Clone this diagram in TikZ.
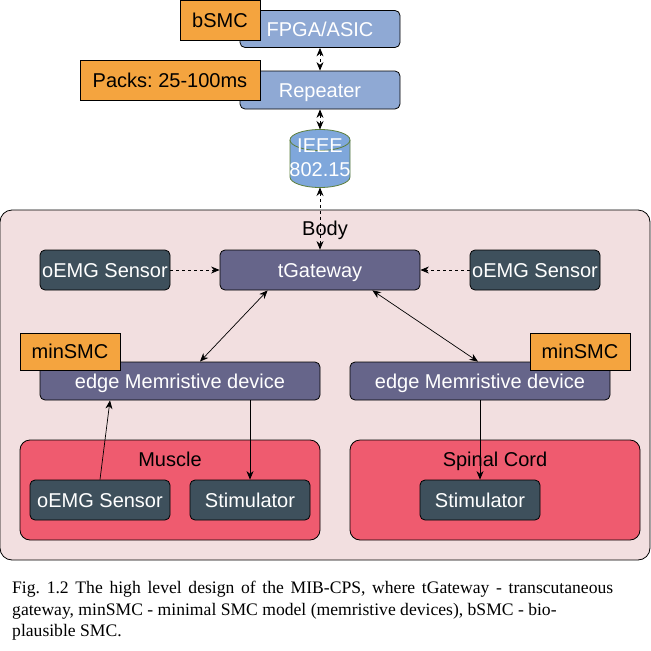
\documentclass[tikz,border=0pt]{standalone}
\usepackage{fontspec}
\setmainfont{Liberation Sans}
\newfontfamily\capfont{Liberation Serif}
\usetikzlibrary{arrows.meta}
\definecolor{tagorange}{HTML}{F4A43F}
\definecolor{boxblue}{HTML}{8FA9D4}
\definecolor{boxdark}{HTML}{3E505C}
\definecolor{boxpurple}{HTML}{66658A}
\definecolor{boxred}{HTML}{EF5B6F}
\definecolor{bodypink}{HTML}{F2DFE0}
\definecolor{cylgreen}{HTML}{5E7F3B}
\definecolor{cylblue}{HTML}{7FA7DB}
\frenchspacing
\tikzset{
  lbl/.style={font=\fontsize{20}{24}\selectfont, text height=14.3pt, text depth=0pt},
  box/.style={draw=black, line width=0.8pt, rounded corners=5pt, text=white, inner sep=0pt, lbl},
  tagbox/.style={draw=black, line width=0.8pt, fill=tagorange, text=black, inner sep=0pt, lbl},
  arr/.style={draw=black, line width=0.7pt, -{Stealth[length=8.5pt,width=7pt]}},
  darr/.style={arr, {Stealth[length=8.5pt,width=7pt]}-{Stealth[length=8.5pt,width=7pt]}},
  dsh/.style={dash pattern=on 3pt off 3pt}
}
\begin{document}
\begin{tikzpicture}[x=1pt,y=-1pt]
\useasboundingbox (0,0) rectangle (651,651);
% top chain
\node[box, fill=boxblue, minimum width=160pt, minimum height=37pt] (fpga) at (320,29) {FPGA/ASIC};
\node[tagbox, minimum width=80pt, minimum height=40pt] (bsmc) at (220,20) {bSMC};
\node[box, fill=boxblue, minimum width=160pt, minimum height=38pt] (rep) at (320,90) {Repeater};
\node[tagbox, minimum width=180pt, minimum height=40pt] (packs) at (170,80) {Packs: 25-100ms};
% cylinder
\filldraw[fill=cylblue, draw=cylgreen, line width=0.8pt]
  (290,140) -- (290,177) arc[start angle=180, end angle=0, x radius=30, y radius=10.5]
  -- (350,140) arc[start angle=0, end angle=-180, x radius=30, y radius=10.5] -- cycle;
\draw[cylgreen, line width=0.8pt] (290,140) arc[start angle=180, end angle=0, x radius=30, y radius=10.5];
\node[text=white, lbl, inner sep=0pt] (ieee1) at (320,145) {IEEE};
\node[text=white, lbl, inner sep=0pt] (ieee2) at (320,169) {802.15};
\coordinate (cyltop) at (320,129.5);
\coordinate (cylbot) at (320,187.5);
% body
\node[draw=black, line width=0.8pt, fill=bodypink, rounded corners=12pt, minimum width=650pt, minimum height=350pt, inner sep=0pt] (body) at (325,385) {};
\node[lbl, inner sep=0pt] (bodylbl) at (325,228) {Body};
\node[box, fill=boxpurple, minimum width=200pt, minimum height=40pt] (tgw) at (320,270) {tGateway};
\node[box, fill=boxdark, minimum width=130pt, minimum height=40pt] (oemgl) at (105,270) {oEMG Sensor};
\node[box, fill=boxdark, minimum width=130pt, minimum height=40pt] (oemgr) at (535,270) {oEMG Sensor};
\node[box, fill=boxpurple, minimum width=280pt, minimum height=38pt] (edgel) at (180,381) {edge Memristive device};
\node[box, fill=boxpurple, minimum width=260pt, minimum height=38pt] (edger) at (480,381) {edge Memristive device};
\node[tagbox, minimum width=100pt, minimum height=37pt] (minl) at (70,351.5) {minSMC};
\node[tagbox, minimum width=100pt, minimum height=37pt] (minr) at (580,351.5) {minSMC};
\node[box, fill=boxred, minimum width=300pt, minimum height=100pt, rounded corners=10pt] (muscle) at (170,490) {};
\node[lbl, inner sep=0pt] (musclelbl) at (170,459) {Muscle};
\node[box, fill=boxred, minimum width=290pt, minimum height=100pt, rounded corners=10pt] (spinal) at (495,490) {};
\node[lbl, inner sep=0pt] (spinallbl) at (495,459) {Spinal Cord};
\node[box, fill=boxdark, minimum width=140pt, minimum height=40pt] (oemgb) at (100,500) {oEMG Sensor};
\node[box, fill=boxdark, minimum width=120pt, minimum height=40pt] (stiml) at (250,500) {Stimulator};
\node[box, fill=boxdark, minimum width=120pt, minimum height=40pt] (stimr) at (480,500) {Stimulator};
% connectors
\draw[darr, dsh] (fpga.south) -- (rep.north);
\draw[darr, dsh] (rep.south) -- (cyltop);
\draw[darr, dsh] (cylbot) -- (tgw.north);
\draw[arr, dsh] (oemgl.east) -- (tgw.west);
\draw[arr, dsh] (oemgr.west) -- (tgw.east);
\draw[darr] (tgw.south west) ++(48,0) coordinate (t1) (t1) -- (edgel.north -| 200,0);
\draw[darr] (tgw.south east) ++(-48,0) coordinate (t2) (t2) -- (edger.north -| 478,0);
\draw[arr] (oemgb.north) -- (edgel.south -| 110,0);
\draw[arr] (edgel.south -| stiml.north) -- (stiml.north);
\draw[arr] (edger.south -| stimr.north) -- (stimr.north);
% caption
\node[anchor=north west, align=left, inner sep=0pt, font=\capfont\fontsize{17.6}{21.5}\selectfont] (cap) at (12,581)
 {\makebox[601pt][s]{Fig. 1.2 The high level design of the MIB-CPS, where tGateway - transcutaneous}\\
  gateway, minSMC - minimal SMC model (memristive devices), bSMC - bio-\\
  plausible SMC.};
\end{tikzpicture}
\end{document}
